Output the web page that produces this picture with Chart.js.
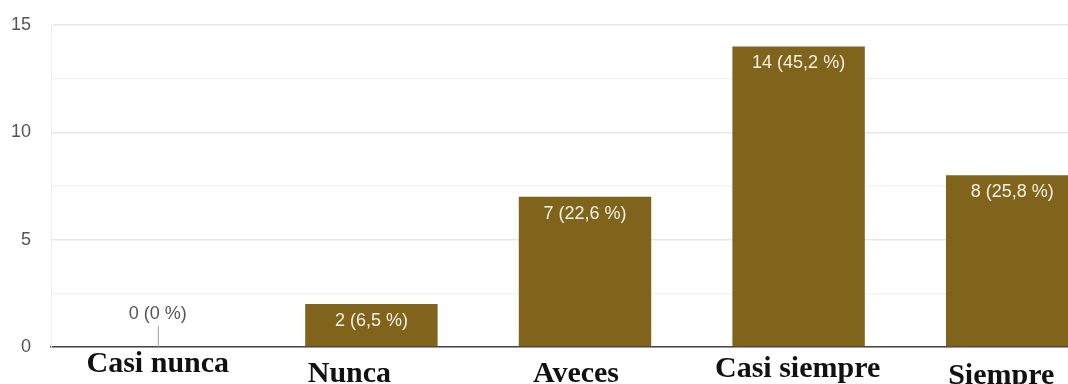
<!DOCTYPE html>
<html>
<head>
<meta charset="utf-8">
<script src="https://cdn.jsdelivr.net/npm/chart.js@4/dist/chart.umd.min.js"></script>
<style>
    html, body { margin: 0; padding: 0; background: #fff; }
    #frame { width: 1068px; height: 384px; overflow: hidden; position: relative; }
    #wrap { width: 1121px; height: 384px; position: absolute; left: 0; top: 0; }
</style>
</head>
<body>
<div id="frame"><div id="wrap"><canvas id="chart"></canvas></div></div>
<script>
// données
const categories = ['Casi nunca', 'Nunca', 'Aveces', 'Casi siempre', 'Siempre'];
const counts = [0, 2, 7, 14, 8];
const yTicks = [0, 5, 10, 15];

// décalage des étiquettes collées sous l'axe (style)
const labelDx = [0, -22, -9, -1, -11];
const labelDy = [2, 12, 12, 7, 14];

const total = counts.reduce((a, b) => a + b, 0);

function pct(v) {
    const p = Math.round(v / total * 1000) / 10;
    return (Number.isInteger(p) ? String(p) : p.toFixed(1)).replace('.', ',');
}

const valueLabels = {
    id: 'valueLabels',
    afterDatasetsDraw(chart) {
        const ctx = chart.ctx;
        const meta = chart.getDatasetMeta(0);
        ctx.save();
        ctx.font = '18px "Liberation Sans", Arial, sans-serif';
        ctx.textAlign = 'center';
        ctx.textBaseline = 'middle';
        meta.data.forEach((bar, i) => {
            const v = counts[i];
            const txt = v + ' (' + pct(v) + ' %)';
            if (v > 0) {
                ctx.fillStyle = '#f3efe4';
                ctx.fillText(txt, bar.x, bar.y + 17);
            } else {
                ctx.strokeStyle = '#9a9a9a';
                ctx.lineWidth = 1;
                ctx.beginPath();
                ctx.moveTo(bar.x + 0.5, bar.base - 21);
                ctx.lineTo(bar.x + 0.5, bar.base);
                ctx.stroke();
                ctx.fillStyle = '#555';
                ctx.fillText(txt, bar.x, bar.base - 33);
            }
        });
        ctx.restore();
    }
};

const categoryLabels = {
    id: 'categoryLabels',
    afterDraw(chart) {
        const ctx = chart.ctx;
        const x = chart.scales.x;
        const base = chart.chartArea.bottom;
        ctx.save();
        ctx.font = 'bold 30px "Liberation Serif", "Times New Roman", serif';
        ctx.textAlign = 'center';
        ctx.textBaseline = 'top';
        ctx.fillStyle = '#111';
        categories.forEach((c, i) => {
            ctx.fillText(c, x.getPixelForValue(i) + labelDx[i], base + labelDy[i]);
        });
        ctx.restore();
    }
};

new Chart(document.getElementById('chart'), {
    type: 'bar',
    data: {
        labels: categories,
        datasets: [{
            data: counts,
            backgroundColor: '#80641b',
            categoryPercentage: 1,
            barPercentage: 0.62
        }]
    },
    options: {
        responsive: true,
        maintainAspectRatio: false,
        animation: false,
        layout: { padding: { top: 25, bottom: 29, right: 2 } },
        plugins: { legend: { display: false }, tooltip: { enabled: false } },
        scales: {
            x: {
                grid: { display: false },
                ticks: { display: false },
                border: { display: true, color: '#444', width: 1.5 }
            },
            y: {
                min: 0,
                max: 15,
                afterFit: s => {
                    s.width = 51;
                    s.paddingTop = 0;
                    s.paddingBottom = 0;
                },
                afterBuildTicks: s => {
                    const t = [];
                    for (let v = 0; v <= 15; v += 2.5) t.push({ value: v });
                    s.ticks = t;
                },
                ticks: {
                    padding: 20,
                    color: '#555',
                    font: { family: '"Liberation Sans", Arial, sans-serif', size: 18 },
                    callback: v => yTicks.includes(v) ? String(v) : ''
                },
                grid: {
                    drawTicks: false,
                    color: c => c.tick && c.tick.value % 5 === 0 ? '#e8e8e8' : '#f3f3f3',
                    lineWidth: 1.5
                },
                border: { display: true, color: '#ededed', width: 1 }
            }
        }
    },
    plugins: [valueLabels, categoryLabels]
});
</script>
</body>
</html>
